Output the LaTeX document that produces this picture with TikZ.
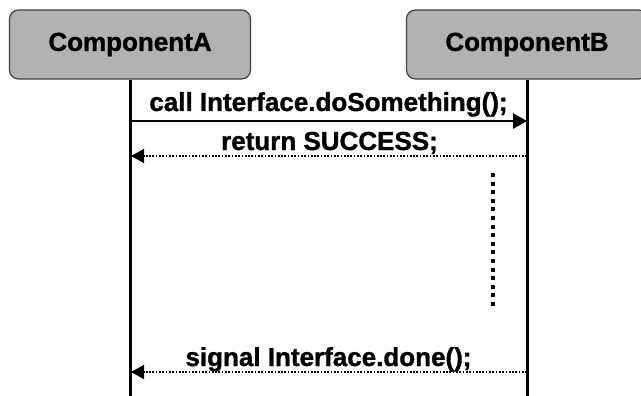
\documentclass[tikz,border=0pt]{standalone}
\usepackage{fontspec}
\setmainfont{Liberation Sans}[BoldFeatures={FakeBold=1.2}]
\usetikzlibrary{arrows.meta}
\begin{document}
\begin{tikzpicture}[x=1pt,y=-1pt,
  comp/.style={draw=black!75,line width=1.2pt,fill=black!30,rounded corners=9pt,minimum width=241pt,minimum height=69pt,inner sep=0pt,font=\fontsize{26}{28}\selectfont\bfseries},
  lifeline/.style={line width=3pt,black},
  callarrow/.style={line width=2.6pt,-{Triangle[length=14pt,width=15pt]}},
  retarrow/.style={line width=1.7pt,dash pattern=on 1.7pt off 1.6pt,-{Triangle[length=13pt,width=14pt]}},
  msg/.style={anchor=base,inner sep=0pt,font=\fontsize{26}{28}\selectfont\bfseries}]
\useasboundingbox (0,0) rectangle (641,396);
\node[comp] (A) at (130,44.5) {ComponentA};
\node[comp] (B) at (527,44.5) {ComponentB};
\coordinate (Aend) at (130,396);
\coordinate (Bend) at (527,396);
\draw[lifeline] (A.south) -- (Aend);
\draw[lifeline] (B.south) -- (Bend);
% call
\coordinate (c1a) at (130,121);
\coordinate (c1b) at (527,121);
\draw[callarrow] (c1a) -- (c1b);
\node[msg] (t1) at (328.5,111) {call Interface.doSomething();};
% return
\coordinate (c2a) at (527,156);
\coordinate (c2b) at (131,156);
\draw[retarrow] (c2a) -- (c2b);
\node[msg] (t2) at (329.5,150) {return SUCCESS;};
% vertical dots
\coordinate (d1) at (493,173);
\coordinate (d2) at (493,307);
\draw[line width=4pt,dash pattern=on 4pt off 4.6pt] (d1) -- (d2);
% signal
\coordinate (c3a) at (527,372);
\coordinate (c3b) at (131,372);
\draw[retarrow] (c3a) -- (c3b);
\node[msg] (t3) at (328.5,366) {signal Interface.done();};
\end{tikzpicture}
\end{document}
